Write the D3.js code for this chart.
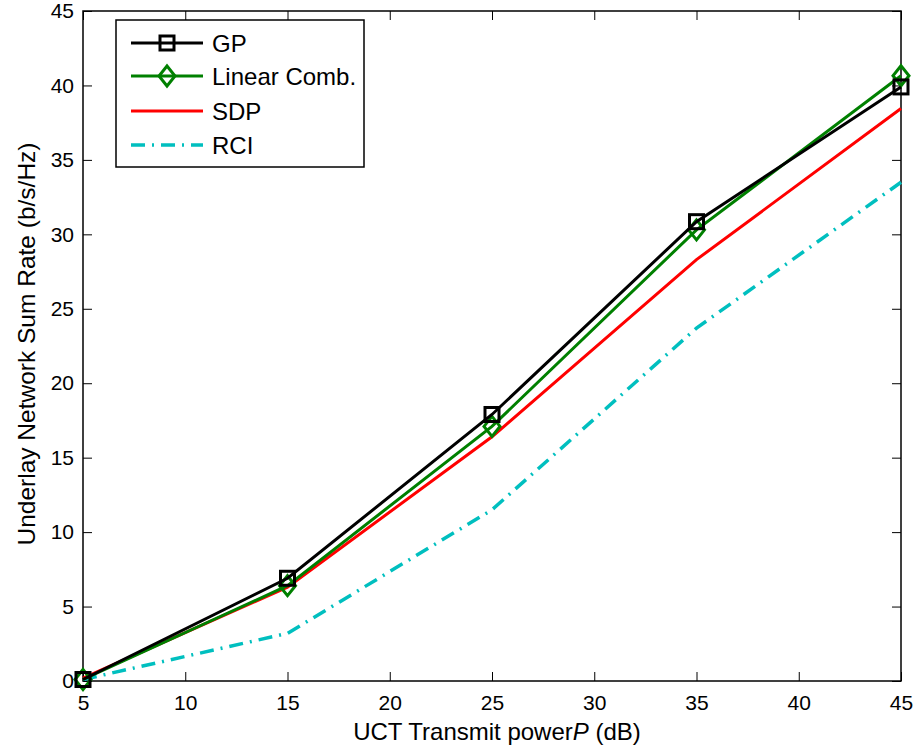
<!DOCTYPE html>
<html>
<head>
<meta charset="utf-8">
<script src="https://cdn.jsdelivr.net/npm/d3@7"></script>
<style>
  body { margin: 0; background: #fff; }
  text { font-family: Arial, "Liberation Sans", sans-serif; }
</style>
</head>
<body>
<svg id="viz"></svg>
<script>
// data
var powers = [5, 15, 25, 35, 45];
var gp = [0.1, 6.9, 17.9, 30.85, 39.9];
var linComb = [0.1, 6.4, 17.1, 30.3, 40.65];
var sdp = [0.2, 6.3, 16.4, 28.3, 38.45];
var rci = [0.1, 3.2, 11.5, 23.7, 33.5];
var xTicks = [5, 10, 15, 20, 25, 30, 35, 40, 45];
var yTicks = [0, 5, 10, 15, 20, 25, 30, 35, 40, 45];

var width = 919, height = 749;
var margin = { top: 11, right: 18, bottom: 68, left: 83 };
var drawWidth = width - margin.left - margin.right;
var drawHeight = height - margin.top - margin.bottom;

var svg = d3.select('#viz').attr('width', width).attr('height', height);
var g = svg.append('g').attr('transform', `translate(${margin.left},${margin.top})`);

var xScale = d3.scaleLinear().domain([5, 45]).range([0, drawWidth]);
var yScale = d3.scaleLinear().domain([0, 45]).range([drawHeight, 0]);

// axes, MATLAB style: ticks inward on all four sides
var tickLen = 9;
function styleAxis(sel) {
  sel.select('.domain').remove();
  sel.selectAll('line').attr('stroke', '#000').attr('stroke-width', 1);
  sel.selectAll('text').attr('fill', '#000').style('font-size', '21px');
}
g.append('g').attr('transform', `translate(0,${drawHeight})`)
  .call(d3.axisBottom(xScale).tickValues(xTicks).tickSizeInner(-tickLen).tickSizeOuter(0).tickPadding(14))
  .call(styleAxis);
g.append('g')
  .call(d3.axisTop(xScale).tickValues(xTicks).tickSizeInner(-tickLen).tickSizeOuter(0).tickFormat(''))
  .call(styleAxis);
g.append('g')
  .call(d3.axisLeft(yScale).tickValues(yTicks).tickSizeInner(-tickLen).tickSizeOuter(0).tickPadding(9))
  .call(styleAxis);
g.append('g').attr('transform', `translate(${drawWidth},0)`)
  .call(d3.axisRight(yScale).tickValues(yTicks).tickSizeInner(-tickLen).tickSizeOuter(0).tickFormat(''))
  .call(styleAxis);

g.append('rect').attr('width', drawWidth).attr('height', drawHeight)
  .attr('fill', 'none').attr('stroke', '#000').attr('stroke-width', 1.5);

// axis labels
var xl = svg.append('text')
  .attr('x', margin.left + drawWidth / 2 + 5).attr('y', 740)
  .attr('text-anchor', 'middle').style('font-size', '24px');
xl.append('tspan').text('UCT Transmit power');
xl.append('tspan').style('font-style', 'italic').text('P');
xl.append('tspan').text(' (dB)');

svg.append('text')
  .attr('transform', `translate(35,${margin.top + drawHeight / 2 - 2}) rotate(-90)`)
  .attr('text-anchor', 'middle').style('font-size', '24.5px')
  .text('Underlay Network Sum Rate (b/s/Hz)');

// series
var series = [
  { name: 'GP', values: gp, color: '#000000', dash: null, marker: 'square' },
  { name: 'Linear Comb.', values: linComb, color: '#008000', dash: null, marker: 'diamond' },
  { name: 'SDP', values: sdp, color: '#ff0000', dash: null, marker: null },
  { name: 'RCI', values: rci, color: '#00bfbf', dash: '14,7,2,7', marker: null }
];

var line = d3.line().x((d, i) => xScale(powers[i])).y(d => yScale(d));

function drawMarker(sel, type, color) {
  if (type === 'square') {
    sel.append('rect').attr('x', -7).attr('y', -7).attr('width', 14).attr('height', 14)
      .attr('fill', 'none').attr('stroke', color).attr('stroke-width', 3);
  } else if (type === 'diamond') {
    sel.append('path').attr('d', 'M0,-10L8,0L0,10L-8,0Z')
      .attr('fill', 'none').attr('stroke', color).attr('stroke-width', 3);
  }
}

// draw in reverse order so GP ends on top
series.slice().reverse().forEach(function (s) {
  g.append('path').datum(s.values)
    .attr('d', line)
    .attr('fill', 'none')
    .attr('stroke', s.color)
    .attr('stroke-width', s.dash ? 3.5 : 3)
    .attr('stroke-dasharray', s.dash);
  if (s.marker) {
    s.values.forEach(function (v, i) {
      var m = g.append('g').attr('transform', `translate(${xScale(powers[i])},${yScale(v)})`);
      drawMarker(m, s.marker, s.color);
    });
  }
});

// legend
var legend = svg.append('g').attr('transform', 'translate(116,20)');
legend.append('rect').attr('width', 248).attr('height', 147)
  .attr('fill', '#fff').attr('stroke', '#000').attr('stroke-width', 1.5);
var rowY = [23, 56, 91, 125];
series.forEach(function (s, i) {
  var row = legend.append('g').attr('transform', `translate(0,${rowY[i]})`);
  row.append('line').attr('x1', 15).attr('x2', 87).attr('y1', 0).attr('y2', 0)
    .attr('stroke', s.color).attr('stroke-width', s.dash ? 3.5 : 3)
    .attr('stroke-dasharray', s.dash);
  if (s.marker) {
    var m = row.append('g').attr('transform', 'translate(51,0)');
    drawMarker(m, s.marker, s.color);
  }
  row.append('text').attr('x', 96).attr('y', 0).attr('dy', '0.36em')
    .style('font-size', '24px').text(s.name);
});
</script>
</body>
</html>
